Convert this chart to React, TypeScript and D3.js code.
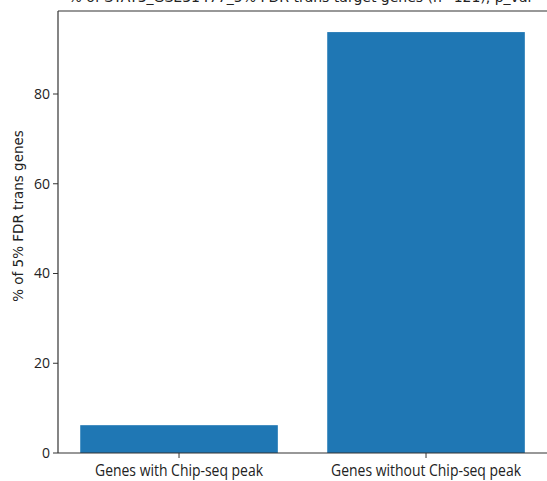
import React from "react";
import * as d3 from "d3";

const categories = ["Genes with Chip-seq peak", "Genes without Chip-seq peak"];
const values = [6.2, 93.8];
const yTicks = [0, 20, 40, 60, 80];
const title = "% of STAT3_GSE31477_5% FDR trans target genes (n=121), p_val";

export default function App() {
  const W = 547, H = 481;
  const ml = 58, mt = 11, mb = 28;
  const x = d3.scaleLinear().domain([-0.49, 1.49]).range([ml, ml + 1.98 * 247]);
  const y = d3.scaleLinear().domain([0, 98.5]).range([H - mb, mt]);
  const bw = 0.8;
  const font = "'DejaVu Sans', sans-serif";
  const lblFont = "'Open Sans', sans-serif";
  return (
    <svg width={W} height={H} style={{ position: "absolute", left: 0, top: 0, background: "#fff" }}>
      <text x={300} y={2} textAnchor="middle" fontFamily={font} fontSize={14} fill="#222">{title}</text>
      {values.map((v, i) => (
        <rect key={i} x={x(i - bw / 2)} y={y(v)} width={x(i + bw / 2) - x(i - bw / 2)} height={y(0) - y(v)} fill="#1f77b4" />
      ))}
      <g stroke="#333" strokeWidth={1.2} fill="none">
        <line x1={x(-0.49)} x2={x(-0.49)} y1={y(98.5)} y2={y(0)} />
        <line x1={x(-0.49)} x2={W} y1={y(0)} y2={y(0)} />
        <line x1={x(-0.49)} x2={W} y1={y(98.5)} y2={y(98.5)} />
      </g>
      {yTicks.map((t) => (
        <g key={t}>
          <line x1={x(-0.49) - 5} x2={x(-0.49)} y1={y(t)} y2={y(t)} stroke="#333" strokeWidth={1} />
          <text x={x(-0.49) - 8} y={y(t)} dy="0.35em" textAnchor="end" fontFamily={lblFont} fontSize={14} fill="#222">{t}</text>
        </g>
      ))}
      {categories.map((c, i) => (
        <g key={c}>
          <line x1={x(i)} x2={x(i)} y1={y(0)} y2={y(0) + 5} stroke="#333" strokeWidth={1} />
          <text x={x(i)} y={y(0) + 23} textAnchor="middle" fontFamily={lblFont} fontSize={15.5} fill="#222" transform={`translate(${x(i)},0) scale(0.9,1) translate(${-x(i)},0)`}>{c}</text>
        </g>
      ))}
      <text transform={`translate(23,${(y(0) + y(98.5)) / 2 - 16}) rotate(-90)`} textAnchor="middle" fontFamily={font} fontSize={13.5} fill="#222">% of 5% FDR trans genes</text>
    </svg>
  );
}
